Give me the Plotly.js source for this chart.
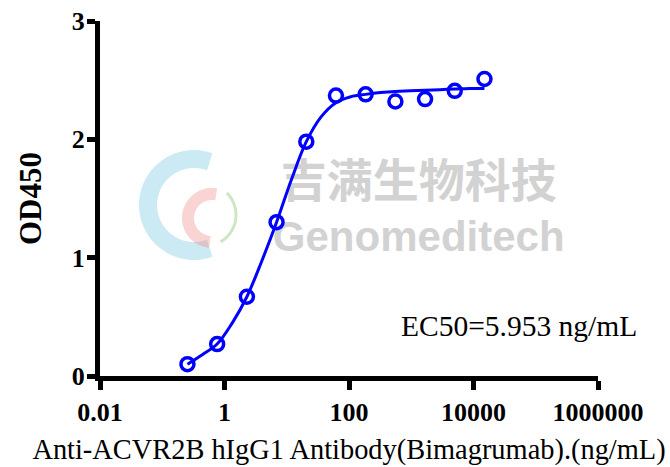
<!DOCTYPE html>
<html>
<head>
<meta charset="utf-8">
<script src="https://cdn.plot.ly/plotly-3.0.1.min.js"></script>
<style>html,body{margin:0;padding:0;background:#fff;}#chart{width:670px;height:467px;}</style>
</head>
<body>
<div id="chart"></div>
<script>
// Measured points (ng/mL, OD450)
const concentration = [0.254, 0.762, 2.29, 6.86, 20.6, 61.7, 185, 556, 1667, 5000, 15000];
const od450 = [0.10, 0.27, 0.67, 1.30, 1.98, 2.37, 2.38, 2.32, 2.34, 2.41, 2.51];

// Fitted curve
const fitConc = [0.254, 0.44, 0.762, 1.32, 2.29, 3.96, 6.86, 11.9, 20.6, 35.6, 61.7, 107, 185, 321, 556, 962, 1667, 2887, 5000, 8660, 15000];
const fitOD = [0.10, 0.18, 0.27, 0.445, 0.67, 0.97, 1.30, 1.66, 1.98, 2.19, 2.31, 2.36, 2.38, 2.395, 2.405, 2.41, 2.415, 2.42, 2.425, 2.43, 2.43];

const xTickVals = [0.01, 1, 100, 10000, 1000000];
const xTickText = ['0.01', '1', '100', '10000', '1000000'];
const yTickVals = [0, 1, 2, 3];

const ec50Label = 'EC50=5.953 ng/mL';
const xTitle = 'Anti-ACVR2B hIgG1 Antibody(Bimagrumab).(ng/mL)';
const yTitle = 'OD450';
const watermarkCN = '吉满生物科技';
const watermarkEN = 'Genomeditech';

const serif = 'Liberation Serif, Times New Roman, serif';
const blue = '#0000ff';

// plot area in pixels (for decorative watermark logo placement)
const M = {l: 100, r: 72, t: 21, b: 91};
const PW = 670 - M.l - M.r, PH = 467 - M.t - M.b;
function arcPath(cx, cy, r, a0, a1) {
  const pts = [];
  const n = 40;
  for (let i = 0; i <= n; i++) {
    const a = (a0 + (a1 - a0) * i / n) * Math.PI / 180;
    const px = cx + r * Math.cos(a), py = cy - r * Math.sin(a);
    pts.push(((px - M.l) / PW).toFixed(4) + ',' + ((467 - M.b - py) / PH).toFixed(4));
  }
  return 'M' + pts.join(' L');
}

const traces = [
  {
    x: fitConc, y: fitOD, type: 'scatter', mode: 'lines',
    line: {color: blue, width: 3, shape: 'spline', smoothing: 1},
    hoverinfo: 'skip', showlegend: false
  },
  {
    x: concentration, y: od450, type: 'scatter', mode: 'markers',
    marker: {symbol: 'circle-open', size: 13, color: blue, line: {color: blue, width: 3.5}},
    showlegend: false
  }
];

const layout = {
  width: 670, height: 467,
  margin: M,
  paper_bgcolor: '#ffffff', plot_bgcolor: 'rgba(0,0,0,0)',
  font: {family: serif, color: '#000'},
  xaxis: {
    type: 'log', range: [-2, 6],
    tickvals: xTickVals, ticktext: xTickText,
    showline: true, linecolor: '#000', linewidth: 5,
    ticks: 'outside', ticklen: 9, tickwidth: 5, tickcolor: '#000',
    showgrid: false, zeroline: false,
    tickfont: {family: serif, size: 26, weight: 'bold', color: '#000'},
    title: {text: xTitle, font: {family: serif, size: 28.4, color: '#000'}, standoff: 14}
  },
  yaxis: {
    range: [0, 3], tickvals: yTickVals,
    showline: true, linecolor: '#000', linewidth: 5,
    ticks: 'outside', ticklen: 8, tickwidth: 5, tickcolor: '#000',
    ticklabelstandoff: -3,
    showgrid: false, zeroline: false,
    tickfont: {family: serif, size: 26, weight: 'bold', color: '#000'},
    title: {text: yTitle, font: {family: serif, size: 31, weight: 'bold', color: '#000'}, standoff: 22}
  },
  shapes: [
    {type: 'path', xref: 'paper', yref: 'paper', layer: 'below', path: arcPath(194, 205, 46, 70, 290),
     line: {color: 'rgba(120,200,225,0.38)', width: 18}},
    {type: 'path', xref: 'paper', yref: 'paper', layer: 'below', path: arcPath(212, 218, 24, 80, 265),
     line: {color: 'rgba(240,130,130,0.35)', width: 12}},
    {type: 'path', xref: 'paper', yref: 'paper', layer: 'below', path: arcPath(205, 215, 31, -60, 45),
     line: {color: 'rgba(150,200,120,0.45)', width: 3}},
    {type: 'rect', xref: 'paper', yref: 'paper', x0: 0.30, x1: 0.98, y0: 0.486, y1: 0.596,
     line: {width: 0}, fillcolor: 'rgba(0,0,0,0)', layer: 'below',
     label: {text: watermarkCN, textposition: 'middle center',
             font: {family: 'Noto Sans CJK SC, sans-serif', size: 46, weight: 'bold', color: '#d2d2d2'}}},
    {type: 'rect', xref: 'paper', yref: 'paper', x0: 0.30, x1: 0.98, y0: 0.35, y1: 0.46,
     line: {width: 0}, fillcolor: 'rgba(0,0,0,0)', layer: 'below',
     label: {text: watermarkEN, textposition: 'middle center',
             font: {family: 'Liberation Sans, Arial, sans-serif', size: 42, weight: 'bold', color: '#d2d2d2'}}}
  ],
  annotations: [
    {text: ec50Label, xref: 'paper', yref: 'paper', x: 0.841, y: 0.141,
     xanchor: 'center', yanchor: 'middle', showarrow: false,
     font: {family: serif, size: 29.5, color: '#000'}}
  ]
};

Plotly.newPlot('chart', traces, layout, {displayModeBar: false, staticPlot: true});
</script>
</body>
</html>
